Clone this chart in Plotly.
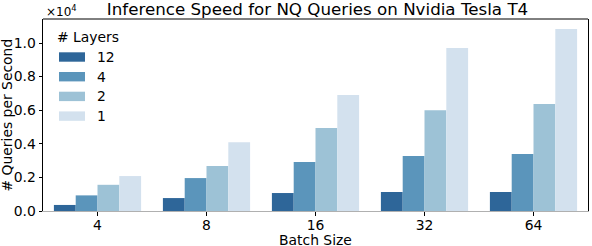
import plotly.graph_objects as go

batch_sizes = ["4", "8", "16", "32", "64"]
layers = ["12", "4", "2", "1"]
qps_12 = [360, 770, 1070, 1130, 1130]
qps_4 = [930, 1960, 2920, 3270, 3390]
qps_2 = [1560, 2680, 4940, 6000, 6370]
qps_1 = [2080, 4100, 6900, 9700, 10830]
series = [qps_12, qps_4, qps_2, qps_1]
colors = ["#2e6699", "#5b95bb", "#9dc2d6", "#d3e1ee"]
y_ticks = [0, 2000, 4000, 6000, 8000, 10000]
y_tick_text = ["0.0", "0.2", "0.4", "0.6", "0.8", "1.0"]

FONT = "DejaVu Sans"
FS = 13.9
W, H = 592, 246
L, R, T, B = 43, 4, 19, 35
fig = go.Figure()
for name, vals, col in zip(layers, series, colors):
    fig.add_trace(go.Bar(x=batch_sizes, y=vals, name=name, marker_color=col,
                         marker_line_width=0, showlegend=False))

fig.update_layout(
    width=W, height=H,
    margin=dict(l=L, r=R, t=T, b=B, autoexpand=False),
    paper_bgcolor="white", plot_bgcolor="white",
    barmode="group", bargap=0.2, bargroupgap=0,
    font=dict(family=FONT, size=FS, color="black"),
    title=dict(text="Inference Speed for NQ Queries on Nvidia Tesla T4",
               x=317.5 / W, xanchor="center", y=1 - 9.5 / H, yanchor="middle",
               font=dict(size=16.7, family=FONT, color="black")),
)
fig.update_xaxes(
    type="category", range=[-0.5, 4.5], automargin=False,
    showline=True, linecolor="#b0b0b0", linewidth=1,
    ticks="outside", ticklen=4, tickcolor="black", tickwidth=1,
    showgrid=False, zeroline=False, ticklabelstandoff=-3,
    tickfont=dict(size=FS),
)
fig.update_yaxes(
    range=[0, 11430], tickvals=y_ticks, ticktext=y_tick_text, automargin=False,
    showline=True, linecolor="black", linewidth=1, mirror=True,
    ticks="outside", ticklen=3.5, tickcolor="black",
    showgrid=False, zeroline=False,
    tickfont=dict(size=FS),
)

plot_w = W - L - R
plot_h = H - T - B
def px(xp):
    return (xp - L) / plot_w
def py(yp):
    return (H - B - yp) / plot_h

# top spine
fig.add_shape(type="line", xref="paper", yref="paper", x0=0, x1=1, y0=1, y1=1,
              line=dict(color="black", width=1))
# axis titles
fig.add_annotation(text="Batch Size", xref="paper", yref="paper", x=px(315.5), y=py(239.5),
                   xanchor="center", yanchor="middle", showarrow=False,
                   font=dict(size=FS, family=FONT))
fig.add_annotation(text="# Queries per Second", xref="paper", yref="paper", x=px(6), y=py(115.5),
                   xanchor="center", yanchor="middle", showarrow=False, textangle=-90,
                   font=dict(size=FS, family=FONT))
# scale annotation
fig.add_annotation(text="×10<sup>4</sup>", xref="paper", yref="paper", x=px(44), y=py(11),
                   xanchor="left", yanchor="middle", showarrow=False,
                   font=dict(size=12, family=FONT))

# legend (manual, matplotlib style)
fig.add_annotation(text="# Layers", xref="paper", yref="paper", x=px(55), y=py(37.5),
                   xanchor="left", yanchor="middle", showarrow=False,
                   font=dict(size=FS, family=FONT))
for i, (name, col) in enumerate(zip(layers, colors)):
    cy = 57 + i * 19.7
    fig.add_shape(type="rect", xref="paper", yref="paper",
                  x0=px(59), x1=px(85), y0=py(cy - 4.7), y1=py(cy + 4.7),
                  fillcolor=col, line=dict(width=0))
    fig.add_annotation(text=name, xref="paper", yref="paper", x=px(95), y=py(cy),
                       xanchor="left", yanchor="middle", showarrow=False,
                       font=dict(size=FS, family=FONT))

fig.write_html("out.html", config={"displayModeBar": False},
               post_script="document.body.style.margin='0';document.body.style.padding='0';")
